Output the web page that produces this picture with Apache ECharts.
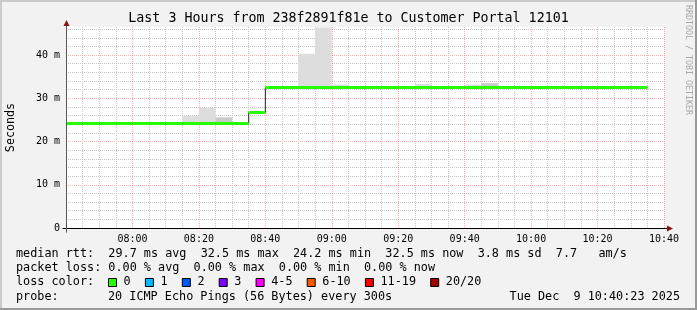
<!DOCTYPE html>
<html><head><meta charset="utf-8">
<script src="https://cdn.jsdelivr.net/npm/echarts@6/dist/echarts.min.js"></script>
<style>html,body{margin:0;padding:0;background:#f2f2f2}#c{width:697px;height:310px}</style>
</head><body><div id="c"></div>
<script>
// ---- data (minutes since midnight, 5-minute bins) ----
const binMinutes = 5;
const binStarts = [460,465,470,475,480,485,490,495,500,505,510,515,520,525,530,535,540,545,550,555,560,565,570,575,580,585,590,595,600,605,610,615,620,625,630];
const medians   = [24.2,24.2,24.2,24.2,24.2,24.2,24.2,24.2,24.2,24.2,24.2,26.7,32.4,32.4,32.4,32.5,32.4,32.4,32.5,32.5,32.5,32.4,32.4,32.5,32.4,32.4,32.4,32.5,32.4,32.4,32.4,32.4,32.4,32.5,32.5];
const smokeStarts = [495,500,505,530,535,540,565,580,585];
const smokeLows   = [23.9,23.9,23.9,32.1,32.2,32.1,32.1,32.1,32.1];
const smokeHighs  = [25.9,27.8,25.6,40.3,46.4,33.2,33.3,33.2,33.5];
const smokeShades = [0,0,1,0,0,0,0,0,1];
const shadeColors = ['#dddddd','#c9c9c9'];
const xMin = 460, xMax = 640, xInterval = 20;
const yMin = 0, yMax = 46.5, yInterval = 10;
const lossLabels = ['0','1','2','3','4-5','6-10','11-19','20/20'];
const lossColors = ['#26ff00','#00b8ff','#0059ff','#7e00ff','#ff00ff','#ff5500','#ff0000','#a10000'];
const titleText = 'Last 3 Hours from 238f2891f81e to Customer Portal 12101';
const rttLine  = 'median rtt:  29.7 ms avg  32.5 ms max  24.2 ms min  32.5 ms now  3.8 ms sd  7.7   am/s';
const lossLine = 'packet loss: 0.00 % avg  0.00 % max  0.00 % min  0.00 % now';
const probeLabel = 'probe:';
const probeText = '20 ICMP Echo Pings (56 Bytes) every 300s';
const dateText = 'Tue Dec  9 10:40:23 2025';

const MONO = "'DejaVu Sans Mono', monospace";
const pad = n => (n < 10 ? '0' : '') + n;
const chart = echarts.init(document.getElementById('c'), null, {renderer: 'canvas'});

const stepData = binStarts.map((s, i) => [s, medians[i]]);
stepData.push([binStarts[binStarts.length - 1] + binMinutes, medians[medians.length - 1]]);
const smokeData = smokeStarts.map((s, i) => [s, smokeLows[i], smokeHighs[i], smokeShades[i]]);
const medData = binStarts.map((s, i) => [s, medians[i]]);

const majorGrid = 'rgba(255,40,40,0.38)';
const minorGrid = '#c6c6c6';

chart.setOption({
  animation: false,
  backgroundColor: '#f2f2f2',
  grid: {left: 66, right: 33, top: 27, bottom: 82, show: true, backgroundColor: '#ffffff', borderWidth: 0},
  xAxis: {
    type: 'value', min: xMin, max: xMax, interval: xInterval,
    axisLine: {show: true, onZero: false, lineStyle: {color: '#000', width: 1}},
    axisTick: {show: false},
    axisLabel: {fontFamily: MONO, fontSize: 10, color: '#000', margin: 6,
      formatter: v => v === xMin ? '' : pad(Math.floor(v / 60)) + ':' + pad(v % 60)},
    splitLine: {show: true, lineStyle: {color: majorGrid, type: [1, 1]}},
    minorTick: {show: false, splitNumber: 4},
    minorSplitLine: {show: true, lineStyle: {color: minorGrid, type: [1, 1]}}
  },
  yAxis: {
    type: 'value', min: yMin, max: yMax, interval: yInterval,
    axisLine: {show: true, lineStyle: {color: '#555', width: 1}},
    axisTick: {show: false},
    axisLabel: {fontFamily: MONO, fontSize: 10, color: '#000', margin: 6, showMaxLabel: false,
      formatter: v => v === 0 ? '0' : v + ' m'},
    splitLine: {show: true, showMaxLine: false, lineStyle: {color: majorGrid, type: [1, 1]}},
    minorTick: {show: false, splitNumber: 5},
    minorSplitLine: {show: true, lineStyle: {color: minorGrid, type: [1, 1]}}
  },
  series: [
    {
      type: 'custom', name: 'smoke', clip: true, z: 1,
      data: smokeData,
      encode: {x: 0, y: [1, 2]},
      renderItem: (params, api) => {
        const s = api.value(0), lo = api.value(1), hi = api.value(2), sh = api.value(3);
        const a = api.coord([s, hi]), b = api.coord([s + binMinutes, lo]);
        return {type: 'rect', shape: {x: a[0], y: a[1], width: b[0] - a[0], height: b[1] - a[1]},
          style: {fill: shadeColors[sh]}};
      }
    },
    {
      type: 'line', name: 'median-step', step: 'end', data: stepData, z: 2,
      showSymbol: false, symbol: 'none',
      lineStyle: {color: '#202020', width: 1}
    },
    {
      type: 'custom', name: 'median', clip: true, z: 3,
      data: medData,
      encode: {x: 0, y: 1},
      renderItem: (params, api) => {
        const s = api.value(0), v = api.value(1);
        const a = api.coord([s, v]), b = api.coord([s + binMinutes, v]);
        const y = Math.round(a[1] - 0.5) + 0.5;
        return {type: 'line', shape: {x1: a[0], y1: y, x2: b[0], y2: y},
          style: {stroke: lossColors[0], lineWidth: 3}};
      }
    }
  ]
});

// ---- decorations: frame, title, labels, legend, arrows ----
const p0 = chart.convertToPixel({xAxisIndex: 0, yAxisIndex: 0}, [xMin, yMin]);
const p1 = chart.convertToPixel({xAxisIndex: 0, yAxisIndex: 0}, [xMax, yMax]);
const axX = Math.round(p0[0]) + 0.5, axY = Math.round(p0[1]) + 0.5;
const rightX = p1[0], topY = p1[1];
const arrowCol = '#8b1212';
const g = [];
// frame shading
g.push({type: 'rect', shape: {x: 0, y: 0, width: 697, height: 2}, style: {fill: '#cbcbcb'}, silent: true});
g.push({type: 'rect', shape: {x: 0, y: 0, width: 2, height: 310}, style: {fill: '#cbcbcb'}, silent: true});
g.push({type: 'rect', shape: {x: 0, y: 308, width: 697, height: 2}, style: {fill: '#999999'}, silent: true});
g.push({type: 'rect', shape: {x: 695, y: 0, width: 2, height: 310}, style: {fill: '#999999'}, silent: true});
// axis extensions and arrows
g.push({type: 'line', shape: {x1: axX - 4, y1: axY, x2: rightX + 4, y2: axY}, style: {stroke: '#000', lineWidth: 1}, z: 50});
g.push({type: 'line', shape: {x1: axX, y1: axY + 4, x2: axX, y2: topY - 1}, style: {stroke: '#555', lineWidth: 1}, z: 50});
g.push({type: 'polygon', shape: {points: [[rightX + 3, axY - 3], [rightX + 9, axY], [rightX + 3, axY + 3]]}, style: {fill: arrowCol}, z: 51});
g.push({type: 'polygon', shape: {points: [[axX - 3, topY - 1], [axX, topY - 7], [axX + 3, topY - 1]]}, style: {fill: arrowCol}, z: 51});
// title
g.push({type: 'text', x: 348.5, y: 19, style: {text: titleText, font: '13.3px ' + MONO, fill: '#000', align: 'center', verticalAlign: 'middle'}});
// y-axis name
g.push({type: 'text', x: 10.5, y: 127.5, rotation: Math.PI / 2, style: {text: 'Seconds', font: '11.7px ' + MONO, fill: '#000', align: 'center', verticalAlign: 'middle'}});
// watermark
g.push({type: 'text', x: 688.5, y: 60, rotation: -Math.PI / 2, style: {text: 'RRDTOOL / TOBI OETIKER', font: '8.3px ' + MONO, fill: '#a8a8a8', align: 'center', verticalAlign: 'middle'}});
// legend lines
const LF = '11.8px ' + MONO;
const CW = 7.1;
g.push({type: 'text', x: 16, y: 254, style: {text: rttLine, font: LF, fill: '#000', align: 'left', verticalAlign: 'middle'}});
g.push({type: 'text', x: 16, y: 268.3, style: {text: lossLine, font: LF, fill: '#000', align: 'left', verticalAlign: 'middle'}});
g.push({type: 'text', x: 16, y: 282.3, style: {text: 'loss color:', font: LF, fill: '#000', align: 'left', verticalAlign: 'middle'}});
let cx = 108;
lossLabels.forEach((lab, i) => {
  g.push({type: 'rect', shape: {x: cx + 0.5, y: 278.5, width: 8, height: 8}, style: {fill: lossColors[i], stroke: '#000', lineWidth: 1}});
  const lx = cx + 15.6;
  g.push({type: 'text', x: lx, y: 282.3, style: {text: lab, font: LF, fill: '#000', align: 'left', verticalAlign: 'middle'}});
  cx = lx + lab.length * CW + 14.2;
});
g.push({type: 'text', x: 16, y: 296.5, style: {text: probeLabel, font: LF, fill: '#000', align: 'left', verticalAlign: 'middle'}});
g.push({type: 'text', x: 108, y: 296.5, style: {text: probeText, font: LF, fill: '#000', align: 'left', verticalAlign: 'middle'}});
g.push({type: 'text', x: 680, y: 296.5, style: {text: dateText, font: LF, fill: '#000', align: 'right', verticalAlign: 'middle'}});
chart.setOption({graphic: g});
</script></body></html>
